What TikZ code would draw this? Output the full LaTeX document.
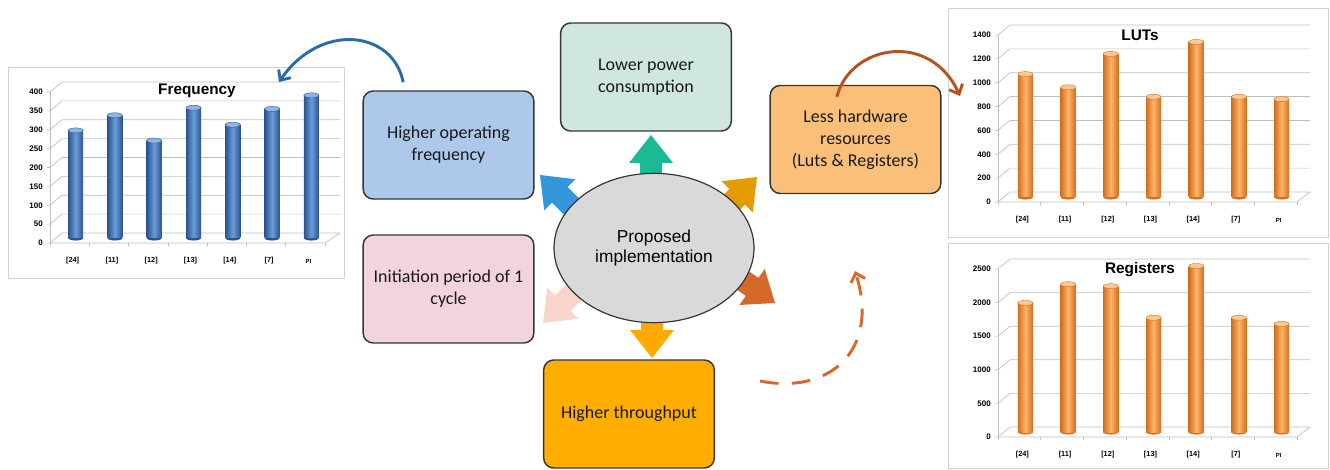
\documentclass[tikz,border=0pt]{standalone}
\usepackage{fontspec}
\setmainfont{Carlito}
\newfontfamily\arialfont{Liberation Sans}
\usetikzlibrary{positioning,arrows.meta,shapes.geometric}

\definecolor{boxline}{HTML}{363636}
\definecolor{lowfill}{HTML}{CFE7DF}
\definecolor{freqfill}{HTML}{ADC8EA}
\definecolor{lessfill}{HTML}{FAC07A}
\definecolor{initfill}{HTML}{F2D4DC}
\definecolor{thrufill}{HTML}{FFAE00}
\definecolor{propfill}{HTML}{D9D9D9}
\definecolor{arrowgreen}{HTML}{1BB994}
\definecolor{arrowblue}{HTML}{3597DB}
\definecolor{arrowgold}{HTML}{E29B00}
\definecolor{arroworange}{HTML}{D4692A}
\definecolor{arrowpink}{HTML}{F8D4CB}
\definecolor{arrowyellow}{HTML}{FFAA00}
\definecolor{curveblue}{HTML}{2B6CA3}
\definecolor{curvebrown}{HTML}{B4541C}
\definecolor{gridgray}{HTML}{BEBEBE}
\definecolor{framegray}{HTML}{D2D2D2}
\definecolor{bluedark}{HTML}{2A5490}
\definecolor{bluelight}{HTML}{6B9CD9}
\definecolor{orangedark}{HTML}{D26F1C}
\definecolor{orangelight}{HTML}{FFB46C}

% block arrow: colour, tip, direction
\newcommand{\blockarrow}[3]{%
  \fill[#1,shift={(#2)},rotate=#3] (0,0) -- (-28,-22) -- (-28,-11) -- (-50,-11)
    -- (-50,11) -- (-28,11) -- (-28,22) -- cycle;}

% 3d axes of a chart: ticks, px per tick, value per tick, front width, back width
\newcommand{\chartaxes}[5]{%
  \foreach \k in {0,...,#1}{
    \pgfmathtruncatemacro{\tickval}{\k*#3}
    \draw[chartline] (-3,-\k*#2) -- (0,-\k*#2) -- (12,-\k*#2-10) -- (#5,-\k*#2-10);
    \node[ylab] at (-7,-\k*#2) {\tickval};
  }
  \draw[chartline] (0,0) -- (0,-#1*#2);
  \draw[chartline] (0,0) -- (#4,0) -- (#5,-10);
  \foreach \k in {0,...,7}
    \draw[chartline] ({\k*#4/7},0) -- ({\k*#4/7},3);
  \foreach \l [count=\i from 0] in {{[24]},{[11]},{[12]},{[13]},{[14]},{[7]}}
    \node[xlab] at ({(\i+0.5)*#4/7+3},18) {\l};
  \node[xlab,font=\arialfont\bfseries\fontsize{4.5}{5}\selectfont] at ({6.5*#4/7+3},18) {PI};
}

% cylinder bar: x, height, dark, light
\newcommand{\cylbar}[4]{%
  \fill[#3] ({#1},-5) ellipse (5.6pt and 1.9pt);
  \shade[left color=#3,right color=#3,middle color=#4] ({#1-7.5},-5) rectangle ({#1+7.5},{-5-#2});
  \filldraw[fill=#4!75!white,draw=#3,line width=0.3pt] ({#1},{-5-#2}) ellipse (5.6pt and 1.9pt);
}

\begin{document}
\begin{tikzpicture}[x=0.75pt,y=-0.75pt,
  benefit/.style={draw=boxline,line width=1.1pt,rounded corners=7.5pt,align=center,
    minimum width=128pt,minimum height=81pt,text=black!90,
    font=\fontsize{13.5}{16.5}\selectfont},
  chartline/.style={draw=gridgray,line width=0.5pt},
  chartframe/.style={draw=framegray,line width=0.7pt},
  ylab/.style={anchor=east,inner sep=0pt,font=\arialfont\bfseries\fontsize{6}{7}\selectfont},
  xlab/.style={inner sep=0pt,font=\arialfont\bfseries\fontsize{5.5}{6}\selectfont},
  charttitle/.style={font=\arialfont\bfseries\fontsize{11.5}{13}\selectfont},
  curve/.style={line width=2.2pt,-{Straight Barb[length=6pt,width=11pt]}}]
\useasboundingbox (0,0) rectangle (1330,470);

% charts
\draw[chartframe] (8,67) rectangle (344,278);
\begin{scope}[shift={(50,243)}]
  \chartaxes{8}{18.875}{50}{275}{290}
  \foreach \v [count=\i from 0] in {285,325,258,345,300,342,378}{
    \cylbar{(\i+0.5)*275/7+6}{\v*0.3775}{bluedark}{bluelight}}
\end{scope}
\node[charttitle] (freqtitle) at (197,91) {Frequency};

\draw[chartframe] (948,8) rectangle (1328,237);
\begin{scope}[shift={(998,202)}]
  \chartaxes{7}{23.86}{200}{299}{312}
  \foreach \v [count=\i from 0] in {1030,920,1200,840,1300,840,820}{
    \cylbar{(\i+0.5)*299/7+6}{\v*0.1193}{orangedark}{orangelight}}
\end{scope}
\node[charttitle] (luttitle) at (1140,35) {LUTs};

\draw[chartframe] (948,243) rectangle (1328,468);
\begin{scope}[shift={(998,437)}]
  \chartaxes{5}{33.6}{500}{299}{312}
  \foreach \v [count=\i from 0] in {1920,2200,2170,1700,2470,1700,1610}{
    \cylbar{(\i+0.5)*299/7+6}{\v*0.0672}{orangedark}{orangelight}}
\end{scope}
\node[charttitle] (regtitle) at (1140,270) {Registers};

% benefits
\node[benefit,fill=lowfill] (lower) at (646,77) {Lower power\\consumption};
\node[benefit,fill=freqfill] (freqbox) at (448.5,145) {Higher operating\\frequency};
\node[benefit,fill=lessfill] (less) at (855.5,139.5) {Less hardware\\resources\\(Luts \& Registers)};
\node[benefit,fill=initfill] (init) at (448.5,289) {Initiation period of 1\\cycle};
\node[benefit,fill=thrufill] (thru) at (629,414) {Higher throughput};

% block arrows, behind the ellipse
\coordinate (tipG) at (651,135);
\coordinate (tipB) at (540,175);
\coordinate (tipO) at (757,177);
\coordinate (tipR) at (775,303);
\coordinate (tipP) at (543,323);
\coordinate (tipY) at (652,358);
\blockarrow{arrowgreen}{tipG}{90}
\blockarrow{arrowblue}{tipB}{135}
\blockarrow{arrowgold}{tipO}{45}
\blockarrow{arroworange}{tipR}{-35}
\blockarrow{arrowpink}{tipP}{-135}
\blockarrow{arrowyellow}{tipY}{-90}

\node[ellipse,draw=boxline,line width=0.9pt,fill=propfill,minimum width=150pt,
  minimum height=112pt,inner sep=0pt,align=center,
  font=\arialfont\fontsize{13}{15}\selectfont] (prop) at (654,248) {Proposed\\implementation};

% curved arrows
\coordinate (freqtip) at (279,82);
\coordinate (luttip) at (960,96);
\coordinate (dashstart) at (760,381);
\coordinate (dashtip) at (855,271);
\draw[curve,curveblue] ([xshift=-34pt,yshift=6pt]freqbox.north)
  .. controls (393,30) and (320,22) .. (freqtip);
\draw[curve,curvebrown] ([xshift=-14pt,yshift=-9pt]less.north)
  .. controls (850,45) and (930,30) .. (luttip);
\draw[curve,arroworange,dash pattern=on 14pt off 10pt] (dashstart)
  .. controls (830,395) and (880,350) .. (dashtip);
\end{tikzpicture}
\end{document}
